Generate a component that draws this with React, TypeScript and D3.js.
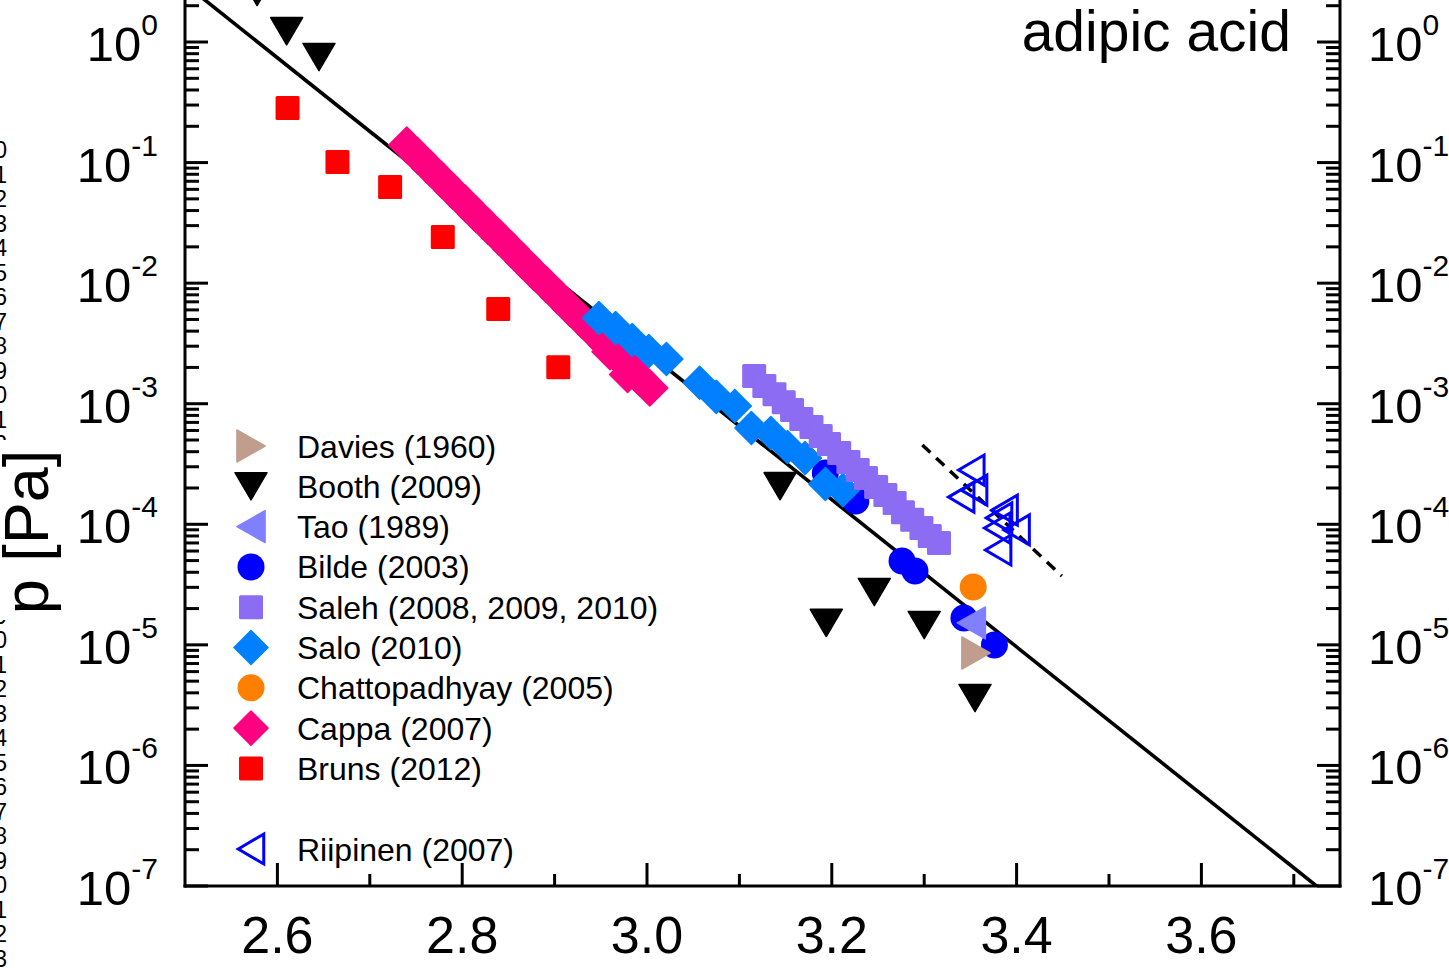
import React, { useEffect } from 'react';
import * as d3 from 'd3';

const W = 1449;
const H = 968;

// ---- data: x = 1000/T [1/K], p [Pa] ----
const davies: [number, number][] = [[3.356, 8.56e-6]];
const booth: [number, number][] = [
  [2.578, 2.6], [2.610, 1.23], [2.645, 0.75], [3.144, 2.07e-4], [3.194, 1.52e-5],
  [3.246, 2.74e-5], [3.300, 1.46e-5], [3.355, 3.62e-6],
];
const tao: [number, number][] = [[3.351, 1.52e-5]];
const bilde: [number, number][] = [
  [3.193, 2.66e-4], [3.226, 1.56e-4], [3.276, 4.96e-5], [3.290, 4.10e-5], [3.343, 1.67e-5], [3.376, 9.97e-6],
];
const saleh: [number, number][] = [
  [3.116, 1.70e-3], [3.127, 1.40e-3], [3.138, 1.20e-3], [3.148, 1.03e-3], [3.157, 8.87e-4],
  [3.167, 7.47e-4], [3.178, 6.41e-4], [3.188, 5.40e-4], [3.197, 4.63e-4], [3.208, 3.90e-4],
  [3.218, 3.29e-4], [3.228, 2.82e-4], [3.237, 2.42e-4], [3.248, 2.04e-4], [3.258, 1.75e-4],
  [3.268, 1.50e-4], [3.277, 1.26e-4], [3.287, 1.09e-4], [3.297, 9.31e-5], [3.306, 8.00e-5],
  [3.316, 7.00e-5],
];
const salo: [number, number][] = [
  [2.948, 5.14e-3], [2.966, 4.25e-3], [2.984, 3.38e-3], [3.002, 2.74e-3], [3.021, 2.35e-3],
  [3.057, 1.49e-3], [3.075, 1.14e-3], [3.095, 9.58e-4], [3.113, 6.29e-4], [3.134, 5.71e-4],
  [3.152, 4.38e-4], [3.171, 3.55e-4], [3.193, 2.16e-4], [3.212, 1.92e-4],
];
const chattopadhyay: [number, number][] = [[3.353, 3.02e-5]];
const cappa: [number, number][] = [
  [2.740, 0.140], [2.752, 0.1135], [2.765, 0.0902], [2.778, 0.0716], [2.790, 0.0579],
  [2.803, 0.0461], [2.815, 0.0372], [2.828, 0.0296], [2.840, 0.0240], [2.853, 0.0191],
  [2.866, 0.0151], [2.878, 0.0122], [2.891, 0.00975], [2.904, 0.00774], [2.917, 0.00615],
  [2.930, 0.00490], [2.943, 0.00389], [2.956, 0.00309], [2.968, 0.00250], [2.980, 0.00202],
  [2.992, 0.00164], [3.003, 0.00135], [2.960, 0.00270], [2.979, 0.00175],
];
const bruns: [number, number][] = [
  [2.611, 0.284], [2.665, 0.101], [2.722, 0.0627], [2.779, 0.0241], [2.839, 0.00611], [2.904, 0.00201],
];
const riipinen: [number, number][] = [
  [3.351, 2.82e-4], [3.354, 1.92e-4], [3.340, 1.68e-4], [3.387, 1.31e-4], [3.400, 8.97e-5],
  [3.379, 9.31e-5], [3.381, 1.13e-4], [3.380, 6.12e-5],
];
const fitLine: [number, number][] = [[2.5, 3.02], [3.75, 7.0e-8]];
const riipinenFit: [number, number][] = [[3.298, 4.55e-4], [3.449, 3.72e-5]];

const xTicksMajor = [2.6, 2.8, 3.0, 3.2, 3.4, 3.6];
const xTicksMinor = [2.7, 2.9, 3.1, 3.3, 3.5, 3.7];
const xTickLabels = ['2.6', '2.8', '3.0', '3.2', '3.4', '3.6'];
const yExponents = [0, -1, -2, -3, -4, -5, -6, -7];
const title = 'adipic acid';
const yTitle = 'p [Pa]';

type Shape = 'triRight' | 'triDown' | 'triLeft' | 'circle' | 'square' | 'diamond' | 'openTriLeft';
interface Series { name: string; data: [number, number][]; shape: Shape; color: string; size: number; }

const seriesList: Series[] = [
  { name: 'Davies (1960)', data: davies, shape: 'triRight', color: '#C19D8D', size: 32 },
  { name: 'Booth (2009)', data: booth, shape: 'triDown', color: '#000000', size: 32 },
  { name: 'Tao (1989)', data: tao, shape: 'triLeft', color: '#8080FF', size: 32 },
  { name: 'Bilde (2003)', data: bilde, shape: 'circle', color: '#0000FF', size: 27 },
  { name: 'Saleh (2008, 2009, 2010)', data: saleh, shape: 'square', color: '#8B6CF2', size: 24 },
  { name: 'Salo (2010)', data: salo, shape: 'diamond', color: '#0080FF', size: 33 },
  { name: 'Chattopadhyay (2005)', data: chattopadhyay, shape: 'circle', color: '#FF8000', size: 27 },
  { name: 'Cappa (2007)', data: cappa, shape: 'diamond', color: '#FF0080', size: 36 },
  { name: 'Bruns (2012)', data: bruns, shape: 'square', color: '#FF0000', size: 24 },
  { name: 'Riipinen (2007)', data: riipinen, shape: 'openTriLeft', color: '#0000FF', size: 30 },
];
const drawOrder = [
  'Riipinen (2007)', 'Bruns (2012)', 'Cappa (2007)', 'Chattopadhyay (2005)', 'Bilde (2003)',
  'Salo (2010)', 'Saleh (2008, 2009, 2010)', 'Tao (1989)', 'Booth (2009)', 'Davies (1960)',
];
const legendRows = [0, 1, 2, 3, 4, 5, 6, 7, 8, 10];
const edgeDigits = '0123456789012345678901234567890123';

const FONT = "'Liberation Sans', Arial, Helvetica, sans-serif";

const PL = 185, PR = 1340, PB = 886, DEC = 120.57;
const x = d3.scaleLinear().domain([2.5, 3.75]).range([PL, PR]);
const y = d3.scaleLog().domain([1e-7, 10]).range([PB, PB - 8 * DEC]);

function Marker({ shape, cx, cy, size, color }: { shape: Shape; cx: number; cy: number; size: number; color: string }) {
  const s = size / 2;
  switch (shape) {
    case 'circle':
      return <circle cx={cx} cy={cy} r={s} fill={color} />;
    case 'square':
      return <rect x={cx - s} y={cy - s} width={size} height={size} rx={1.5} fill={color} />;
    case 'diamond':
      return <path d={`M${cx},${cy - s}L${cx + s},${cy}L${cx},${cy + s}L${cx - s},${cy}Z`} fill={color} stroke={color} strokeWidth={1.5} strokeLinejoin="round" />;
    case 'triDown': {
      const h = size * 0.85;
      return <path d={`M${cx - s},${cy - h / 2}L${cx + s},${cy - h / 2}L${cx},${cy + h / 2}Z`} fill={color} stroke={color} strokeWidth={1.5} strokeLinejoin="round" />;
    }
    case 'triLeft': {
      const w = size * 0.88;
      return <path d={`M${cx - w / 2},${cy}L${cx + w / 2},${cy - s}L${cx + w / 2},${cy + s}Z`} fill={color} stroke={color} strokeWidth={1.5} strokeLinejoin="round" />;
    }
    case 'triRight': {
      const w = size * 0.88;
      return <path d={`M${cx + w / 2},${cy}L${cx - w / 2},${cy - s}L${cx - w / 2},${cy + s}Z`} fill={color} stroke={color} strokeWidth={1.5} strokeLinejoin="round" />;
    }
    case 'openTriLeft': {
      const w = size * 0.85;
      return <path d={`M${cx - w / 2},${cy}L${cx + w / 2},${cy - s}L${cx + w / 2},${cy + s}Z`} fill="none" stroke={color} strokeWidth={3} strokeLinejoin="miter" />;
    }
  }
  return null;
}

function LogLabel({ xPos, yPos, exp, anchor }: { xPos: number; yPos: number; exp: number; anchor: 'start' | 'end' }) {
  return (
    <text x={xPos} y={yPos + 19} textAnchor={anchor} fontFamily={FONT} fill="#000">
      <tspan fontSize={49}>10</tspan>
      <tspan fontSize={30} dy={-26}>{String(exp)}</tspan>
    </text>
  );
}

export default function App() {
  useEffect(() => {
    document.body.style.margin = '0';
  }, []);
  const line = d3.line<[number, number]>().x(d => x(d[0])).y(d => y(d[1]));
  const minorY: number[] = [];
  for (let e = -7; e <= 0; e++) for (let k = 2; k <= 9; k++) minorY.push(k * Math.pow(10, e));
  const byName = new Map(seriesList.map(s => [s.name, s]));
  const lw = 3;
  return (
    <svg width={W} height={H} style={{ position: 'absolute', left: 0, top: 0, background: '#fff' }}>
      <rect x={0} y={0} width={W} height={H} fill="#fff" />
      <defs>
        <clipPath id="plotClip">
          <rect x={PL} y={-100} width={PR - PL} height={PB + 100} />
        </clipPath>
      </defs>

      {/* cropped neighbouring text at far left (part of an adjacent panel, cut by the frame) */}
      {edgeDigits.split('').map((c, i) => (
        <text key={'ed' + i} x={7} y={158 + i * 24.5} textAnchor="end" fontFamily={FONT} fontSize={23} fill="#000">{c}</text>
      ))}
      <rect x={0} y={440} width={66} height={180} fill="#fff" />

      {/* y title */}
      <text transform={`translate(48,532) rotate(-90)`} textAnchor="middle" fontFamily={FONT} fontSize={63} fill="#000">{yTitle}</text>

      {/* plot contents */}
      <g clipPath="url(#plotClip)">
        <path d={line(fitLine) || ''} fill="none" stroke="#000" strokeWidth={3.6} />
        <path d={line(riipinenFit) || ''} fill="none" stroke="#000" strokeWidth={3.5} strokeDasharray="11,8" />
        {drawOrder.map(name => {
          const s = byName.get(name)!;
          return (
            <g key={name}>
              {s.data.map((d, i) => (
                <Marker key={i} shape={s.shape} cx={x(d[0])} cy={y(d[1])} size={s.size} color={s.color} />
              ))}
            </g>
          );
        })}
      </g>

      {/* axes */}
      <g stroke="#000" strokeWidth={lw} fill="none">
        <line x1={PL} y1={-10} x2={PL} y2={PB + 1.5} />
        <line x1={PR} y1={-10} x2={PR} y2={PB + 1.5} />
        <line x1={PL - 1.5} y1={PB} x2={PR + 1.5} y2={PB} />
        {xTicksMajor.map(t => <line key={'xm' + t} x1={x(t)} y1={PB} x2={x(t)} y2={PB - 23} />)}
        {xTicksMinor.map(t => <line key={'xn' + t} x1={x(t)} y1={PB} x2={x(t)} y2={PB - 12} />)}
        {yExponents.map(e => (
          <g key={'ym' + e}>
            <line x1={PL} y1={y(Math.pow(10, e))} x2={PL + 23} y2={y(Math.pow(10, e))} />
            <line x1={PR} y1={y(Math.pow(10, e))} x2={PR - 23} y2={y(Math.pow(10, e))} />
          </g>
        ))}
        {minorY.map(v => (
          <g key={'yn' + v}>
            <line x1={PL} y1={y(v)} x2={PL + 14} y2={y(v)} />
            <line x1={PR} y1={y(v)} x2={PR - 14} y2={y(v)} />
          </g>
        ))}
      </g>

      {/* tick labels */}
      {xTicksMajor.map((t, i) => (
        <text key={'xl' + t} x={x(t)} y={953} textAnchor="middle" fontFamily={FONT} fontSize={52} fill="#000">{xTickLabels[i]}</text>
      ))}
      {yExponents.map(e => (
        <g key={'yl' + e}>
          <LogLabel xPos={158} yPos={y(Math.pow(10, e))} exp={e} anchor="end" />
          <LogLabel xPos={1368} yPos={y(Math.pow(10, e))} exp={e} anchor="start" />
        </g>
      ))}

      {/* title */}
      <text x={1291} y={51} textAnchor="end" fontFamily={FONT} fontSize={57} fill="#000">{title}</text>

      {/* legend */}
      {seriesList.map((s, i) => {
        const ly = 446 + legendRows[i] * 40.3;
        return (
          <g key={'lg' + s.name}>
            <Marker shape={s.shape} cx={251} cy={ly} size={s.shape === 'diamond' ? 34 : s.size} color={s.color} />
            <text x={297} y={ly + 11.5} fontFamily={FONT} fontSize={32} fill="#000">{s.name}</text>
          </g>
        );
      })}
    </svg>
  );
}
